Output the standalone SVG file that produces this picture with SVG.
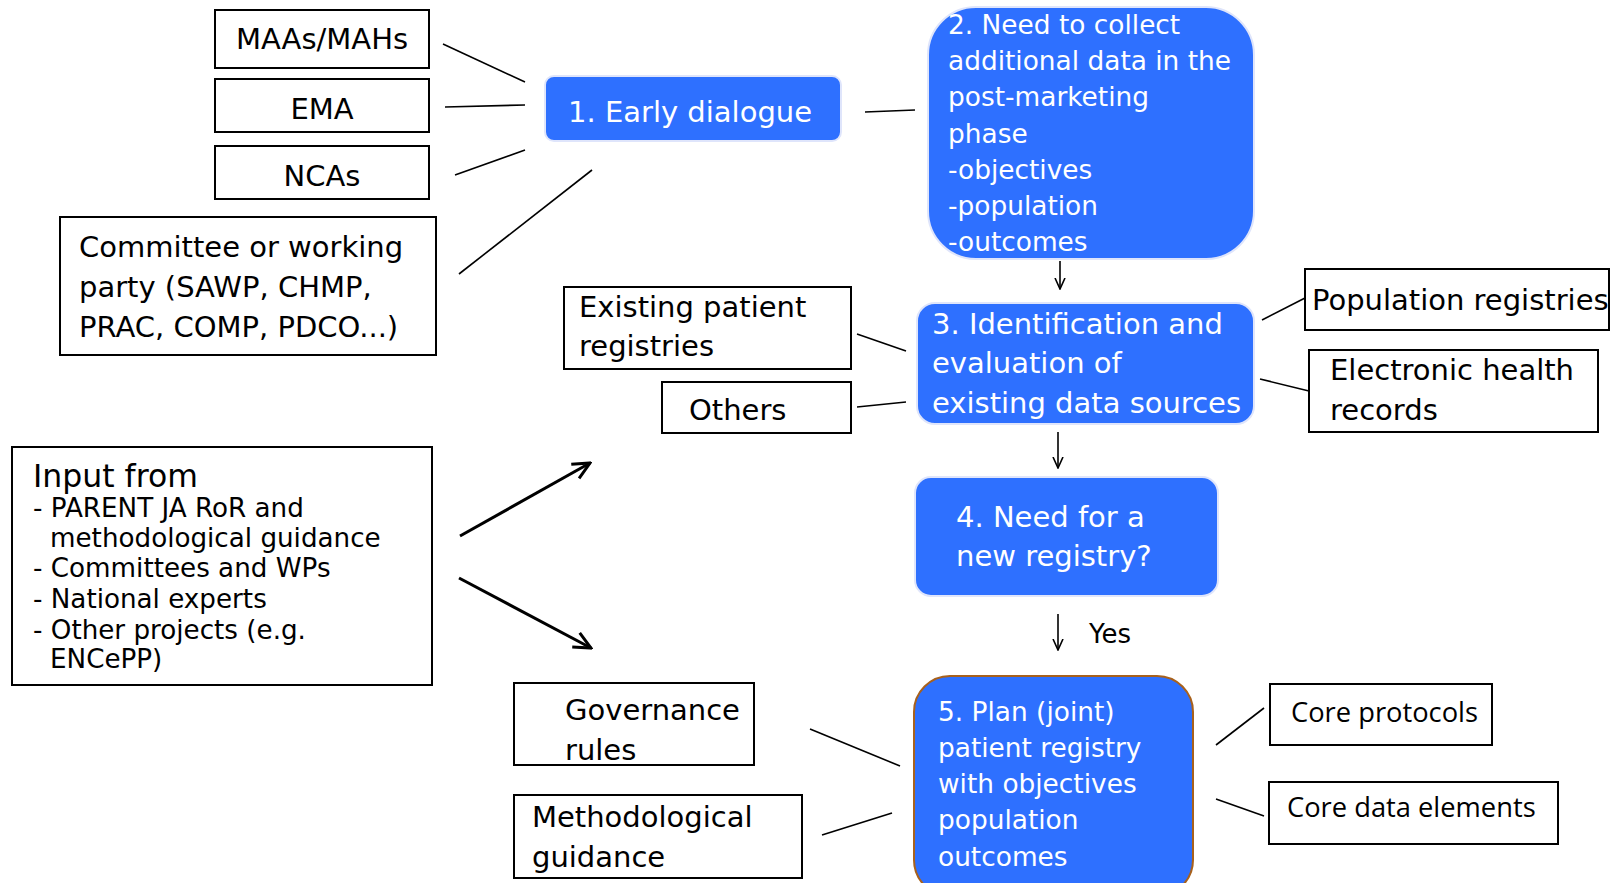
<svg xmlns="http://www.w3.org/2000/svg" width="1610" height="883" viewBox="0 0 1610 883">
<style>
.box{fill:#fff;stroke:#000;stroke-width:2}
.blue{fill:#2e70ff;stroke:#dfe5fb;stroke-width:2}
.t{font-family:"DejaVu Sans",Verdana,sans-serif;font-size:29px;fill:#000}
.w{font-family:"DejaVu Sans",Verdana,sans-serif;font-size:29px;fill:#fff}
.c{font-family:"Open Sans","Noto Sans",sans-serif;font-size:27.3px;fill:#000}
.ln{stroke:#000;stroke-width:1.6;fill:none}
.ar{stroke:#000;stroke-width:1.6;fill:none;marker-end:url(#ah)}
.big{stroke:#000;stroke-width:3;fill:none;marker-end:url(#ahb)}
</style>
<defs>
<marker id="ah" viewBox="0 0 12 12" refX="11" refY="6" markerWidth="12" markerHeight="12" markerUnits="userSpaceOnUse" orient="auto">
<path d="M0,1 L11,6 L0,11" fill="none" stroke="#000" stroke-width="1.6"/>
</marker>
<marker id="ahb" viewBox="0 0 20 20" refX="18" refY="10" markerWidth="20" markerHeight="20" markerUnits="userSpaceOnUse" orient="auto">
<path d="M1,2 L18,10 L1,18" fill="none" stroke="#000" stroke-width="3"/>
</marker>
</defs>
<rect width="1610" height="883" fill="#fff"/>

<g id="connectors">
<line class="ln" x1="443" y1="44" x2="525" y2="82"/>
<line class="ln" x1="445" y1="107" x2="525" y2="105"/>
<line class="ln" x1="455" y1="175" x2="525" y2="150"/>
<line class="ln" x1="459" y1="274" x2="592" y2="170"/>
<line class="ln" x1="865" y1="112" x2="915" y2="110"/>
<line class="ar" x1="1060" y1="261" x2="1060" y2="289"/>
<line class="ln" x1="857" y1="334" x2="906" y2="351"/>
<line class="ln" x1="857" y1="407" x2="906" y2="402"/>
<line class="ln" x1="1262" y1="320" x2="1305" y2="298"/>
<line class="ln" x1="1260" y1="379" x2="1309" y2="391"/>
<line class="ar" x1="1058" y1="432" x2="1058" y2="468"/>
<line class="ar" x1="1058" y1="614" x2="1058" y2="650"/>
<line class="ln" x1="1216" y1="745" x2="1264" y2="708"/>
<line class="ln" x1="1216" y1="799" x2="1264" y2="816"/>
<line class="ln" x1="810" y1="729" x2="900" y2="766"/>
<line class="ln" x1="822" y1="835" x2="892" y2="813"/>
<line class="big" x1="460" y1="536" x2="590" y2="463"/>
<line class="big" x1="459" y1="578" x2="591" y2="648"/>
<text class="t" x="1089" y="643" style="font-size:26px">Yes</text>
</g>

<g id="maas">
<rect class="box" x="215" y="10" width="214" height="58"/>
<text class="t" x="322" y="49" text-anchor="middle">MAAs/MAHs</text>
</g>
<g id="ema">
<rect class="box" x="215" y="79" width="214" height="53"/>
<text class="t" x="322" y="119" text-anchor="middle">EMA</text>
</g>
<g id="ncas">
<rect class="box" x="215" y="146" width="214" height="53"/>
<text class="t" x="322" y="186" text-anchor="middle">NCAs</text>
</g>
<g id="committee">
<rect class="box" x="60" y="217" width="376" height="138"/>
<text class="t" x="79" y="257">Committee or working</text>
<text class="t" x="79" y="297">party (SAWP, CHMP,</text>
<text class="t" x="79" y="337">PRAC, COMP, PDCO...)</text>
</g>

<g id="n1">
<rect class="blue" x="545" y="76" width="296" height="65" rx="9"/>
<text class="w" x="568" y="122">1. Early dialogue</text>
</g>

<g id="n2">
<rect class="blue" x="928" y="7" width="326" height="252" rx="48"/>
<g class="w" style="font-size:26.4px">
<text x="948" y="34">2. Need to collect</text>
<text x="948" y="70">additional data in the</text>
<text x="948" y="106">post-marketing</text>
<text x="948" y="143">phase</text>
<text x="948" y="179">-objectives</text>
<text x="948" y="215">-population</text>
<text x="948" y="251">-outcomes</text>
</g>
</g>

<g id="n3">
<rect class="blue" x="917" y="303" width="337" height="121" rx="18"/>
<text class="w" x="932" y="334">3. Identification and</text>
<text class="w" x="932" y="373">evaluation of</text>
<text class="w" x="932" y="413">existing data sources</text>
</g>

<g id="existing">
<rect class="box" x="564" y="287" width="287" height="82"/>
<text class="t" x="579" y="317">Existing patient</text>
<text class="t" x="579" y="356">registries</text>
</g>
<g id="others">
<rect class="box" x="662" y="382" width="189" height="51"/>
<text class="t" x="689" y="420">Others</text>
</g>
<g id="population">
<rect class="box" x="1305" y="269" width="304" height="61"/>
<text class="t" x="1312" y="310">Population registries</text>
</g>
<g id="ehr">
<rect class="box" x="1309" y="350" width="289" height="82"/>
<text class="t" x="1330" y="380">Electronic health</text>
<text class="t" x="1330" y="420">records</text>
</g>

<g id="n4">
<rect class="blue" x="915" y="477" width="303" height="119" rx="16"/>
<text class="w" x="956" y="527">4. Need for a</text>
<text class="w" x="956" y="566">new registry?</text>
</g>

<g id="n5">
<rect x="914" y="676" width="279" height="220" rx="36" fill="#2e70ff" stroke="#a8611c" stroke-width="2"/>
<g class="w" style="font-size:26.4px">
<text x="938" y="721">5. Plan (joint)</text>
<text x="938" y="757">patient registry</text>
<text x="938" y="793">with objectives</text>
<text x="938" y="829">population</text>
<text x="938" y="866">outcomes</text>
</g>
</g>

<g id="coreprot">
<rect class="box" x="1270" y="684" width="222" height="61"/>
<text class="c" x="1291" y="722">Core protocols</text>
</g>
<g id="coredata">
<rect class="box" x="1269" y="782" width="289" height="62"/>
<text class="c" x="1287" y="817">Core data elements</text>
</g>

<g id="governance">
<rect class="box" x="514" y="683" width="240" height="82"/>
<text class="t" x="565" y="720">Governance</text>
<text class="t" x="565" y="760">rules</text>
</g>
<g id="method">
<rect class="box" x="514" y="795" width="288" height="83"/>
<text class="t" x="532" y="827">Methodological</text>
<text class="t" x="532" y="867">guidance</text>
</g>

<g id="input">
<rect class="box" x="12" y="447" width="420" height="238"/>
<text class="t" x="33" y="487" style="font-size:31.5px">Input from</text>
<g class="t" style="font-size:26.2px">
<text x="33" y="517">- PARENT JA RoR and</text>
<text x="50" y="547">methodological guidance</text>
<text x="33" y="577">- Committees and WPs</text>
<text x="33" y="608">- National experts</text>
<text x="33" y="639">- Other projects (e.g.</text>
<text x="50" y="668">ENCePP)</text>
</g>
</g>
</svg>
